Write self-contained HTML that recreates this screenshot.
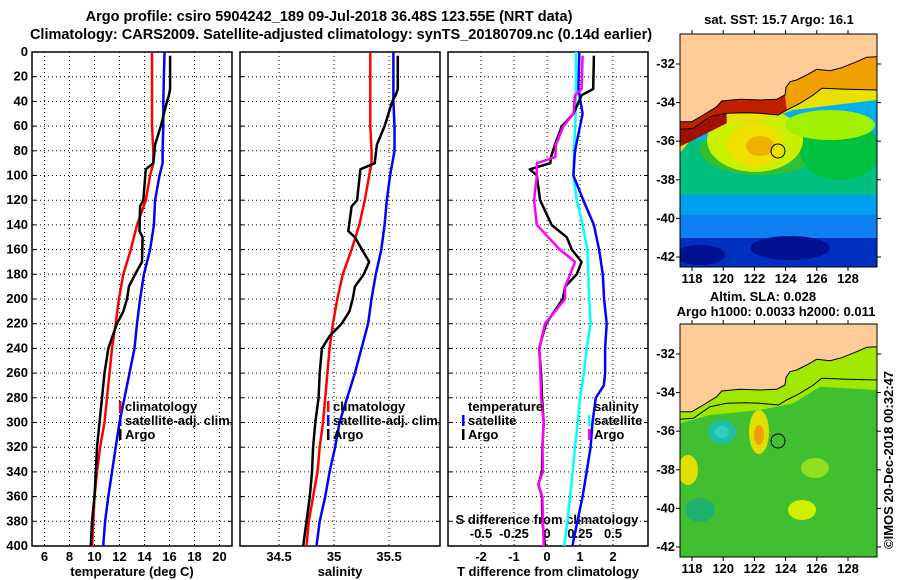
<!DOCTYPE html>
<html><head><meta charset="utf-8"><style>
body{margin:0;background:#fff;}
svg{display:block;font-family:"Liberation Sans",sans-serif;font-weight:bold;}
</style></head><body>
<svg id="c" width="900" height="580" viewBox="0 0 900 580">
<text x="329" y="21" font-size="14.5" text-anchor="middle">Argo profile: csiro 5904242_189 09-Jul-2018 36.48S 123.55E (NRT data)</text>
<text x="341" y="39" font-size="14.5" text-anchor="middle">Climatology: CARS2009. Satellite-adjusted climatology: synTS_20180709.nc (0.14d earlier)</text>
<g id="plots"></g>
<g id="maps"></g>
</svg>
<script>
// ---- data ----
const tDepthClim=[0,40,60,80,90,100,120,140,160,180,200,220,240,260,280,300,320,340,360,380,400];
const tClim=[14.6,14.6,14.6,14.7,14.7,14.45,14.1,13.4,12.9,12.3,11.95,11.7,11.4,11.2,11.0,10.8,10.45,10.2,10.0,9.9,9.8];
const tSat=[15.6,15.5,15.5,15.45,15.45,15.2,14.85,14.75,14.45,13.95,13.65,13.4,13.2,12.8,12.4,12.0,11.7,11.4,11.1,10.85,10.7];
const argoDepth=[3,30,35,40,60,75,90,95,120,125,145,150,170,180,190,200,210,220,230,240,260,280,300,320,340,360,380,400];
const tArgo=[16.05,16.05,15.95,15.8,15.3,14.85,14.7,14.1,13.9,13.65,13.6,13.85,13.8,13.25,12.75,12.6,12.3,11.8,11.45,11.1,10.8,10.6,10.4,10.2,10.1,10.0,9.8,9.7];
const sClim=[35.33,35.33,35.33,35.34,35.34,35.32,35.28,35.23,35.16,35.08,35.03,34.99,34.96,34.94,34.92,34.9,34.87,34.85,34.81,34.77,34.75];
const sSat=[35.54,35.54,35.55,35.55,35.53,35.51,35.48,35.46,35.43,35.38,35.34,35.31,35.25,35.19,35.12,35.05,35.01,34.96,34.92,34.87,34.84];
const sArgo=[35.58,35.58,35.56,35.53,35.46,35.39,35.37,35.24,35.21,35.16,35.13,35.19,35.32,35.27,35.19,35.17,35.14,35.07,34.96,34.89,34.87,34.86,34.83,34.81,34.8,34.78,34.75,34.72];
const dDepth=[0,30,50,80,100,120,140,160,180,200,220,240,260,270,280,300,320,340,360,380,400];
const dTSat=[0.98,0.95,1.08,0.85,0.8,1.1,1.42,1.58,1.69,1.73,1.81,1.76,1.76,1.72,1.48,1.38,1.32,1.2,1.08,0.92,0.77];
const dSSat=[0.88,0.88,0.87,0.82,0.8,0.9,1.08,1.22,1.25,1.28,1.32,1.2,1.12,1.06,1.0,0.93,0.85,0.78,0.7,0.62,0.52];
const dArgoDepth=[3,30,35,50,60,75,85,90,95,100,120,140,150,160,170,180,190,200,220,240,260,280,300,320,340,350,360,380,400];
const dTArgo=[1.42,1.4,1.05,0.8,0.45,0.24,0.12,0.1,-0.52,-0.31,-0.21,0.14,0.6,0.75,1.05,0.9,0.55,0.48,-0.03,-0.24,-0.18,-0.15,-0.1,-0.14,-0.15,-0.26,-0.15,-0.14,-0.06];
const dSArgo=[1.08,1.05,0.85,0.8,0.5,0.27,0.25,-0.31,-0.31,-0.31,-0.39,-0.31,0.04,0.39,0.85,0.7,0.55,0.55,-0.06,-0.23,-0.2,-0.18,-0.1,-0.14,-0.12,-0.27,-0.14,-0.12,-0.1];
const depthTicks=[0,20,40,60,80,100,120,140,160,180,200,220,240,260,280,300,320,340,360,380,400];
const tTicks=[6,8,10,12,14,16,18,20];
const sTicks=[34.5,35,35.5];
const dTicks=[-2,-1,0,1,2];
const dSTickLabels=["-0.5","-0.25","0","0.25","0.5"];
const dSTicks=[-0.5,-0.25,0,0.25,0.5];

// ---- scales ----
const Y0=52,Y1=546;
const y=z=>Y0+z*(Y1-Y0)/400;
const xT=t=>32+(t-5)*12.5;
const xS=s=>240+(s-34.145)*110;
const xD=d=>547+d*33;
const xDS=s=>547+s*4*33;
const NS='http://www.w3.org/2000/svg';
const plots=document.getElementById('plots');
function mk(tag,attrs,parent){const e=document.createElementNS(NS,tag);for(const k in attrs)e.setAttribute(k,attrs[k]);(parent||plots).appendChild(e);return e;}
function txt(x,yy,s,anchor,size,fill,parent){const e=mk('text',{x:x,y:yy,'font-size':size||13,'text-anchor':anchor||'middle',fill:fill||'#000'},parent);e.textContent=s;return e;}

const panels=[
 {name:'temperature-panel',x0:32,x1:232,ticks:tTicks,fx:xT,label:'temperature (deg C)'},
 {name:'salinity-panel',x0:240,x1:440,ticks:sTicks,fx:xS,label:'salinity'},
 {name:'difference-panel',x0:448,x1:648,ticks:dTicks,fx:xD,label:'T difference from climatology'}
];
panels.forEach((p,i)=>{
  const g=mk('g',{});
  
  
  depthTicks.forEach(d=>{
    if(d>0&&d<400){const l=mk('line',{x1:p.x0,x2:p.x1,y1:y(d),y2:y(d),stroke:'#000','stroke-width':1,'stroke-dasharray':'1,3'},g);
    }
    mk('line',{x1:p.x0,x2:p.x0+4,y1:y(d),y2:y(d),stroke:'#000'},g);
    mk('line',{x1:p.x1-4,x2:p.x1,y1:y(d),y2:y(d),stroke:'#000'},g);
  });
  p.ticks.forEach(t=>{
    const X=p.fx(t);
    const l=mk('line',{x1:X,x2:X,y1:Y0,y2:Y1,stroke:'#000','stroke-width':1,'stroke-dasharray':'1,3'},g);
    
    const tl=txt(X,561,String(t),'middle',13,'#000',g);
    
  });
  const xl=txt((p.x0+p.x1)/2,576,p.label,'middle',13,'#000',g);
  
  const r=mk('rect',{x:p.x0,y:Y0,width:p.x1-p.x0,height:Y1-Y0,fill:'none',stroke:'#000','stroke-width':1.5},g);
  
});
depthTicks.forEach(d=>{const e=txt(28,y(d)+4,String(d),'end',13);
  });
dSTicks.forEach((s,i)=>{const e=txt(xDS(s),538,dSTickLabels[i],'middle',13);
  });
{const e=txt(547,524,'S difference from climatology','middle',13);
 }

function line(depths,vals,fx,color,w,name){
  const pts=depths.map((d,i)=>fx(vals[i]).toFixed(1)+','+y(d).toFixed(1)).join(' ');
  const e=mk('polyline',{points:pts,fill:'none',stroke:color,'stroke-width':w,'stroke-linejoin':'round'});
  
  
}
line(tDepthClim,tClim,xT,'#f00',2.5,'temperature-climatology-line');
line(tDepthClim,tSat,xT,'#00f',2.5,'temperature-satellite-line');
line(argoDepth,tArgo,xT,'#000',2.5,'temperature-argo-line');
line(tDepthClim,sClim,xS,'#f00',2.5,'salinity-climatology-line');
line(tDepthClim,sSat,xS,'#00f',2.5,'salinity-satellite-line');
line(argoDepth,sArgo,xS,'#000',2.5,'salinity-argo-line');
line(dDepth,dSSat,xD,'#0ff',2.5,'salinity-satellite-diff-line');
line(dDepth,dTSat,xD,'#00f',2.5,'temperature-satellite-diff-line');
line(dArgoDepth,dTArgo,xD,'#000',2.5,'temperature-argo-diff-line');
line(dArgoDepth,dSArgo,xD,'#f0f',2.5,'salinity-argo-diff-line');

function legend(x,yy,color,label,name){
  const g=mk('g',{});
  
  
  if(color) mk('rect',{x:x-6,y:yy-10,width:2.5,height:11,fill:color},g);
  txt(x,yy,label,'start',13,'#000',g);
}
legend(125,411,'#f00','climatology','legend-climatology');
legend(125,425,'#00f','satellite-adj. clim.','legend-satellite-adj');
legend(125,439,'#000','Argo','legend-argo');
legend(333,411,'#f00','climatology','legend-s-climatology');
legend(333,425,'#00f','satellite-adj. clim.','legend-s-satellite-adj');
legend(333,439,'#000','Argo','legend-s-argo');
legend(468,411,null,'temperature','legend-temperature-header');
legend(468,425,'#00f','satellite','legend-t-satellite');
legend(468,439,'#000','Argo','legend-t-argo');
legend(594,411,null,'salinity','legend-salinity-header');
legend(594,425,'#0ff','satellite','legend-s-satellite');
legend(594,439,'#f0f','Argo','legend-s-argo-diff');

// ---- maps ----
const maps=document.getElementById('maps');
const coast=[[59,365],[95,365],[130,345],[170,320],[185,303],[240,298],[300,300],[350,298],[375,285],[378,262],[390,245],[410,240],[440,225],[470,208],[510,212],[545,203],[590,185],[620,172],[652,170]];
const contour=[[59,388],[100,385],[150,350],[200,340],[260,338],[300,340],[355,345],[380,330],[420,310],[460,285],[485,265],[560,268],[652,270]];
const lonTicks=[118,120,122,124,126,128];
const latTicks=[-32,-34,-36,-38,-40,-42];
const mx=lon=>692+(lon-118)*15.6;
const myf=(off)=>lat=>off+64+(-32-lat)*19.3;
function mapAt(off,kind){
  const g=mk('g',{},maps);
  
  
  const P=arr=>arr.map(p=>(660+p[0]/3).toFixed(1)+','+(p[1]/3+off).toFixed(1)).join(' ');
  const cid='clip'+off;
  const cp=mk('clipPath',{id:cid},g);mk('rect',{x:680,y:34+off,width:197,height:233},cp);
  const inner=mk('g',{'clip-path':'url(#'+cid+')'},g);
  const R=(x,yy,w,h,f)=>mk('rect',{x:x,y:yy+off,width:w,height:h,fill:f},inner);
  const E=(cx,cy,rx,ry,f)=>mk('ellipse',{cx:cx,cy:cy+off,rx:rx,ry:ry,fill:f},inner);
  if(kind==='sst'){
    R(680,34,197,233,'#00b0f0');
    R(680,140,197,60,'#00c080');
    E(760,150,60,25,'#30c030');E(840,150,40,30,'#00c040');
    R(680,195,197,25,'#00a0f0');
    R(680,215,197,25,'#1080f0');
    R(680,238,197,30,'#0030c0');
    E(790,248,40,12,'#001090');E(700,255,25,10,'#001090');
    E(755,140,48,32,'#c8f000');E(755,145,28,22,'#f0e000');E(760,146,14,10,'#f0b000');
    E(830,125,45,15,'#a0f000');
    mk('polygon',{points:P(coast)+' '+P(contour.slice().reverse()),fill:'#f0a000'},inner);
    mk('polygon',{points:P(contour)+' '+P([[652,300],[400,330],[300,365],[200,370],[100,410],[59,460]]),fill:'#e8e000'},inner);
    mk('polygon',{points:P(coast.slice(0,9))+' '+P(contour.slice(0,8).reverse()),fill:'#c02000'},inner);
    mk('polygon',{points:P(contour.slice(0,4))+' '+P([[200,370],[100,420],[59,440]]),fill:'#a01000'},inner);
  } else {
    R(680,34,197,233,'#40c030');
    mk('polygon',{points:P(coast)+' '+P([[652,300],[480,290],[400,340],[300,360],[150,375],[59,400]]),fill:'#a0e800'},inner);
    E(722,142,14,12,'#20c0a0');E(722,142,7,6,'#30d0c0');
    E(759,142,10,22,'#e0e000');E(759,145,5,10,'#f0a000');
    E(815,178,14,10,'#90e020');E(802,220,14,10,'#d0f000');
    E(688,180,10,15,'#e0e000');E(700,220,15,12,'#20b070');
  }
  mk('polygon',{points:P(coast)+' 877,'+(34+off)+' 680,'+(34+off),fill:'#ffcc99'},inner);
  mk('polyline',{points:P(coast),fill:'none',stroke:'#000','stroke-width':1},inner);
  mk('polyline',{points:P(contour),fill:'none',stroke:'#000','stroke-width':1},inner);
  mk('circle',{cx:778,cy:151+off,r:7,fill:'none',stroke:'#000','stroke-width':1},inner);
  mk('rect',{x:680,y:34+off,width:197,height:233,fill:'none',stroke:'#000','stroke-width':1},g);
  const my=myf(off);
  lonTicks.forEach(l=>{
    mk('line',{x1:mx(l),x2:mx(l),y1:30+off,y2:34+off,stroke:'#000'},g);
    mk('line',{x1:mx(l),x2:mx(l),y1:267+off,y2:271+off,stroke:'#000'},g);
    const e=txt(mx(l),283+off,String(l),'middle',13,'#000',g);
    
  });
  latTicks.forEach(l=>{
    mk('line',{x1:676,x2:680,y1:my(l),y2:my(l),stroke:'#000'},g);
    mk('line',{x1:877,x2:881,y1:my(l),y2:my(l),stroke:'#000'},g);
    const e=txt(675,my(l)+4,String(l),'end',13,'#000',g);
    
  });
}
mapAt(0,'sst');mapAt(290,'sla');
{const e=txt(779,24,'sat. SST: 15.7 Argo: 16.1','middle',13,'#000',maps);
 }
{const e=txt(763,301,'Altim. SLA: 0.028','middle',13,'#000',maps);
 }
{const e=txt(776,316,'Argo h1000: 0.0033 h2000: 0.011','middle',13,'#000',maps);
 }
{const e=txt(0,0,'©IMOS 20-Dec-2018 00:32:47','middle',13,'#000',maps);
 e.setAttribute('transform','translate(893,460) rotate(-90)');
 }
</script>
</body></html>
